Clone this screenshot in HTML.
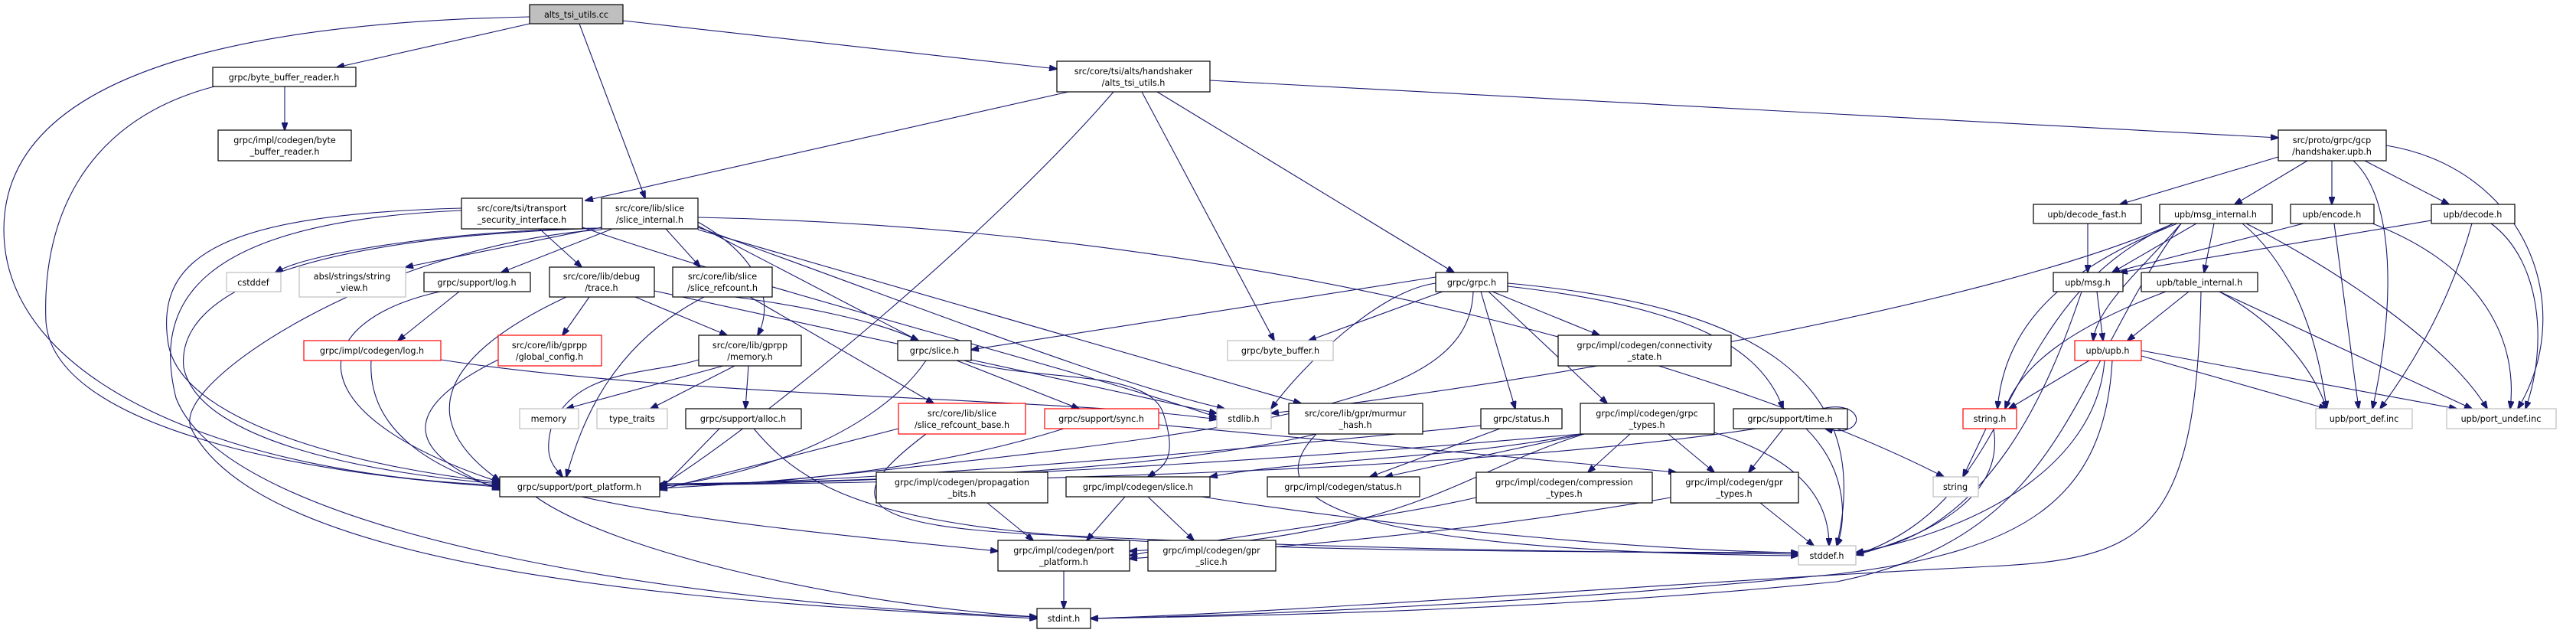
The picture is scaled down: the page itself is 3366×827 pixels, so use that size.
<!DOCTYPE html>
<html><head><meta charset="utf-8"><style>
html,body{margin:0;padding:0;background:#fff}
svg{display:block}
text{font-family:"DejaVu Sans","Liberation Sans",sans-serif;font-size:11.2px;fill:#000;text-anchor:middle}
.n{fill:#fff;stroke:#000;stroke-width:1.2}
.g{fill:#fff;stroke:#bfbfbf;stroke-width:1.2}
.r{fill:#fff;stroke:#ff0000;stroke-width:1.2}
path{fill:none;stroke:#191970;stroke-width:1.1}
</style></head><body>
<svg width="3366" height="827" viewBox="0 0 3366 827" xmlns="http://www.w3.org/2000/svg">
<defs><marker id="a" markerWidth="11" markerHeight="8" refX="10" refY="4" orient="auto" markerUnits="userSpaceOnUse"><polygon points="0,0 11,4 0,8" fill="#191970" stroke="#191970"/></marker></defs>
<g marker-end="url(#a)">
<path d="M692,22 C300,30 5,100 5,300 C5,500 300,620 653,634"/>
<path d="M692,31 L440,88"/>
<path d="M757,31 L843,259"/>
<path d="M814,27 L1381,90"/>
<path d="M372,113 L372,170"/>
<path d="M280,113 C100,160 55,300 60,420 C70,560 400,620 653,636"/>
<path d="M1396,120 L765,262"/>
<path d="M1455,120 C1300,300 1000,550 862,636"/>
<path d="M1492,120 L1665,445"/>
<path d="M1512,120 L1900,356"/>
<path d="M1581,105 L2977,180"/>
<path d="M603,272 C300,280 200,330 220,450 C240,560 500,615 653,630"/>
<path d="M603,275 C250,290 200,400 230,520 C300,700 900,790 1355,806"/>
<path d="M705,299 L760,349"/>
<path d="M761,297 C1000,380 1400,480 1590,545"/>
<path d="M786,298 C600,300 400,330 360,356"/>
<path d="M786,297 L530,349"/>
<path d="M800,299 L655,356"/>
<path d="M870,299 L915,349"/>
<path d="M912,290 C1000,340 1010,400 990,438"/>
<path d="M912,295 L1200,445"/>
<path d="M912,300 L1700,527"/>
<path d="M912,284 C1700,300 2300,500 2540,623"/>
<path d="M786,298 C400,310 230,380 240,480 C260,580 500,620 653,632"/>
<path d="M786,300 C500,320 220,500 250,560 C350,760 1000,790 1355,808"/>
<path d="M912,297 C1200,400 1450,500 1600,534"/>
<path d="M600,381 L520,445"/>
<path d="M575,381 C400,420 380,540 653,630"/>
<path d="M770,388 L735,438"/>
<path d="M830,388 L950,438"/>
<path d="M740,388 C650,430 500,520 653,628"/>
<path d="M855,380 L1590,540"/>
<path d="M960,388 C1050,400 1150,420 1200,445"/>
<path d="M980,388 L1220,527"/>
<path d="M920,388 C800,450 760,550 740,623"/>
<path d="M485,471 C480,560 560,610 653,638"/>
<path d="M576,470 C900,520 1400,520 1590,548"/>
<path d="M651,470 C550,520 500,580 653,640"/>
<path d="M945,478 L740,534"/>
<path d="M960,478 L850,534"/>
<path d="M978,478 L974,534"/>
<path d="M913,470 C850,490 750,480 720,560 C710,600 725,610 735,623"/>
<path d="M940,560 L862,640"/>
<path d="M985,560 C1100,700 1300,720 2350,722"/>
<path d="M1210,471 C1150,560 1000,620 862,636"/>
<path d="M1260,471 C1350,500 1500,480 1520,540 C1540,600 1520,610 1500,623"/>
<path d="M1250,471 L1410,534"/>
<path d="M1174,560 L862,640"/>
<path d="M1210,567 C1100,650 1100,690 1400,700 C1800,720 2200,722 2350,724"/>
<path d="M1390,560 C1200,620 1000,630 862,638"/>
<path d="M1514,555 C1800,580 2000,600 2190,617"/>
<path d="M1720,567 C1500,620 1100,630 862,632"/>
<path d="M1720,567 C1650,640 1700,720 2350,726"/>
<path d="M1876,362 L1269,457"/>
<path d="M1885,381 L1710,445"/>
<path d="M1950,381 L2090,438"/>
<path d="M1935,381 L1980,534"/>
<path d="M1945,381 L2100,527"/>
<path d="M1970,374 C2200,400 2300,450 2330,534"/>
<path d="M1970,370 C2300,400 2450,500 2400,713"/>
<path d="M1925,381 C1920,520 1700,560 1000,630 L862,634"/>
<path d="M1876,370 C1800,380 1700,480 1661,534"/>
<path d="M1960,560 L1790,623"/>
<path d="M1935,556 C1500,600 1100,630 862,634"/>
<path d="M2130,567 L2075,617"/>
<path d="M2180,567 L2240,617"/>
<path d="M2070,567 L1810,623"/>
<path d="M2065,567 C1700,600 1200,630 862,634"/>
<path d="M2065,567 C1900,600 1700,600 1581,623"/>
<path d="M2240,565 C2350,600 2390,650 2390,713"/>
<path d="M2070,567 C1900,620 1850,700 1476,720"/>
<path d="M2380,534 C2440,520 2440,575 2385,560"/>
<path d="M2330,560 L2285,617"/>
<path d="M2360,560 C2420,620 2410,690 2400,713"/>
<path d="M2295,560 C1900,620 1200,630 862,634"/>
<path d="M1929,650 C1800,680 1600,700 1476,726"/>
<path d="M2300,657 L2370,713"/>
<path d="M2183,650 C1900,700 1600,720 1476,730"/>
<path d="M1470,649 L1420,706"/>
<path d="M1500,649 L1560,706"/>
<path d="M1570,649 C1900,700 2200,720 2350,722"/>
<path d="M1290,657 L1350,706"/>
<path d="M760,649 C900,680 1100,700 1304,720"/>
<path d="M700,649 C800,720 1100,790 1355,806"/>
<path d="M1390,746 L1390,795"/>
<path d="M2850,292 C2700,500 2700,700 2400,760 C2000,800 1600,805 1425,808"/>
<path d="M2977,205 L2770,267"/>
<path d="M3015,210 L2920,267"/>
<path d="M3047,210 L3047,267"/>
<path d="M3090,210 L3200,267"/>
<path d="M3075,210 C3130,260 3130,400 3100,534"/>
<path d="M3118,190 C3300,220 3370,400 3290,534"/>
<path d="M2728,292 L2728,356"/>
<path d="M2870,292 L2760,356"/>
<path d="M2893,292 L2880,356"/>
<path d="M2850,292 C2800,350 2740,400 2735,445"/>
<path d="M2845,292 C2700,350 2620,420 2610,534"/>
<path d="M2840,292 C2600,400 2000,500 1661,540"/>
<path d="M2840,292 C2600,400 2650,650 2425,725"/>
<path d="M2930,292 C3000,350 3030,450 3040,534"/>
<path d="M2935,292 C3050,350 3200,450 3250,534"/>
<path d="M3010,292 L2760,356"/>
<path d="M3050,292 L3082,534"/>
<path d="M3100,292 C3250,350 3290,450 3280,534"/>
<path d="M3177,288 L2770,356"/>
<path d="M3230,292 C3200,400 3150,480 3110,534"/>
<path d="M3255,292 C3320,340 3330,450 3300,534"/>
<path d="M2740,381 L2748,445"/>
<path d="M2720,381 C2680,500 2600,700 2425,722"/>
<path d="M2860,381 L2780,445"/>
<path d="M2830,381 C2700,430 2640,480 2620,534"/>
<path d="M2900,381 C2990,430 3030,500 3040,534"/>
<path d="M2900,381 L3230,534"/>
<path d="M2876,381 C2870,700 2800,730 2600,740 C2200,760 1700,800 1425,808"/>
<path d="M2730,471 L2625,534"/>
<path d="M2798,465 L3040,534"/>
<path d="M2798,458 L3210,534"/>
<path d="M2760,471 C2750,650 2650,720 2400,750 C2000,790 1600,805 1425,808"/>
<path d="M2750,471 C2740,600 2600,690 2425,722"/>
<path d="M2595,560 L2565,623"/>
<path d="M2605,560 C2620,650 2520,700 2425,725"/>
</g>
<rect x="692" y="6" width="122" height="25" fill="#bfbfbf" stroke="#000" stroke-width="1.2"/><text x="753" y="23">alts_tsi_utils.cc</text>
<rect class="n" x="278" y="88" width="187" height="25"/><text x="371" y="105">grpc/byte_buffer_reader.h</text>
<rect class="n" x="285" y="170" width="174" height="40"/><text x="372" y="187">grpc/impl/codegen/byte</text><text x="372" y="202">_buffer_reader.h</text>
<rect class="n" x="603" y="259" width="158" height="40"/><text x="682" y="276">src/core/tsi/transport</text><text x="682" y="291">_security_interface.h</text>
<rect class="n" x="786" y="259" width="126" height="40"/><text x="849" y="276">src/core/lib/slice</text><text x="849" y="291">/slice_internal.h</text>
<rect class="g" x="296" y="356" width="71" height="25"/><text x="331" y="373">cstddef</text>
<rect class="g" x="391" y="349" width="139" height="39"/><text x="460" y="365">absl/strings/string</text><text x="460" y="380">_view.h</text>
<rect class="n" x="554" y="356" width="139" height="25"/><text x="623" y="373">grpc/support/log.h</text>
<rect class="n" x="718" y="349" width="137" height="39"/><text x="786" y="365">src/core/lib/debug</text><text x="786" y="380">/trace.h</text>
<rect class="n" x="879" y="349" width="130" height="39"/><text x="944" y="365">src/core/lib/slice</text><text x="944" y="380">/slice_refcount.h</text>
<rect class="n" x="1381" y="80" width="200" height="40"/><text x="1481" y="97">src/core/tsi/alts/handshaker</text><text x="1481" y="112">/alts_tsi_utils.h</text>
<rect class="n" x="1876" y="356" width="94" height="25"/><text x="1923" y="373">grpc/grpc.h</text>
<rect class="r" x="397" y="445" width="179" height="26"/><text x="486" y="462">grpc/impl/codegen/log.h</text>
<rect class="r" x="651" y="438" width="135" height="40"/><text x="718" y="455">src/core/lib/gprpp</text><text x="718" y="470">/global_config.h</text>
<rect class="n" x="913" y="438" width="134" height="40"/><text x="980" y="455">src/core/lib/gprpp</text><text x="980" y="470">/memory.h</text>
<rect class="n" x="1173" y="445" width="96" height="26"/><text x="1221" y="462">grpc/slice.h</text>
<rect class="g" x="1604" y="445" width="138" height="26"/><text x="1673" y="462">grpc/byte_buffer.h</text>
<rect class="n" x="2036" y="438" width="226" height="40"/><text x="2149" y="455">grpc/impl/codegen/connectivity</text><text x="2149" y="470">_state.h</text>
<rect class="g" x="679" y="534" width="77" height="26"/><text x="717" y="551">memory</text>
<rect class="g" x="780" y="534" width="92" height="26"/><text x="826" y="551">type_traits</text>
<rect class="n" x="896" y="534" width="151" height="26"/><text x="971" y="551">grpc/support/alloc.h</text>
<rect class="r" x="1174" y="527" width="166" height="40"/><text x="1257" y="544">src/core/lib/slice</text><text x="1257" y="559">/slice_refcount_base.h</text>
<rect class="r" x="1365" y="534" width="149" height="26"/><text x="1439" y="551">grpc/support/sync.h</text>
<rect class="g" x="1590" y="534" width="71" height="26"/><text x="1625" y="551">stdlib.h</text>
<rect class="n" x="1684" y="527" width="175" height="40"/><text x="1771" y="544">src/core/lib/gpr/murmur</text><text x="1771" y="559">_hash.h</text>
<rect class="n" x="1935" y="534" width="106" height="26"/><text x="1988" y="551">grpc/status.h</text>
<rect class="n" x="2065" y="527" width="175" height="40"/><text x="2152" y="544">grpc/impl/codegen/grpc</text><text x="2152" y="559">_types.h</text>
<rect class="n" x="2265" y="534" width="149" height="26"/><text x="2339" y="551">grpc/support/time.h</text>
<rect class="r" x="2565" y="534" width="70" height="26"/><text x="2600" y="551">string.h</text>
<rect class="g" x="2526" y="623" width="59" height="26"/><text x="2555" y="640">string</text>
<rect class="n" x="653" y="623" width="209" height="26"/><text x="757" y="640">grpc/support/port_platform.h</text>
<rect class="n" x="1145" y="617" width="224" height="40"/><text x="1257" y="634">grpc/impl/codegen/propagation</text><text x="1257" y="649">_bits.h</text>
<rect class="n" x="1393" y="623" width="188" height="26"/><text x="1487" y="640">grpc/impl/codegen/slice.h</text>
<rect class="n" x="1656" y="623" width="199" height="26"/><text x="1755" y="640">grpc/impl/codegen/status.h</text>
<rect class="n" x="1929" y="617" width="230" height="40"/><text x="2044" y="634">grpc/impl/codegen/compression</text><text x="2044" y="649">_types.h</text>
<rect class="n" x="2183" y="617" width="167" height="40"/><text x="2266" y="634">grpc/impl/codegen/gpr</text><text x="2266" y="649">_types.h</text>
<rect class="g" x="2350" y="713" width="75" height="25"/><text x="2387" y="730">stddef.h</text>
<rect class="n" x="1304" y="706" width="172" height="40"/><text x="1390" y="723">grpc/impl/codegen/port</text><text x="1390" y="738">_platform.h</text>
<rect class="n" x="1500" y="706" width="167" height="40"/><text x="1583" y="723">grpc/impl/codegen/gpr</text><text x="1583" y="738">_slice.h</text>
<rect class="n" x="1355" y="795" width="70" height="26"/><text x="1390" y="812">stdint.h</text>
<rect class="n" x="2977" y="170" width="141" height="40"/><text x="3047" y="187">src/proto/grpc/gcp</text><text x="3047" y="202">/handshaker.upb.h</text>
<rect class="n" x="2657" y="267" width="141" height="25"/><text x="2727" y="284">upb/decode_fast.h</text>
<rect class="n" x="2822" y="267" width="147" height="25"/><text x="2895" y="284">upb/msg_internal.h</text>
<rect class="n" x="2993" y="267" width="109" height="25"/><text x="3047" y="284">upb/encode.h</text>
<rect class="n" x="3177" y="267" width="109" height="25"/><text x="3231" y="284">upb/decode.h</text>
<rect class="n" x="2683" y="356" width="91" height="25"/><text x="2728" y="373">upb/msg.h</text>
<rect class="n" x="2798" y="356" width="152" height="25"/><text x="2874" y="373">upb/table_internal.h</text>
<rect class="r" x="2711" y="445" width="87" height="26"/><text x="2754" y="462">upb/upb.h</text>
<rect class="g" x="3026" y="534" width="126" height="26"/><text x="3089" y="551">upb/port_def.inc</text>
<rect class="g" x="3197" y="534" width="143" height="26"/><text x="3268" y="551">upb/port_undef.inc</text>
</svg>
</body></html>
